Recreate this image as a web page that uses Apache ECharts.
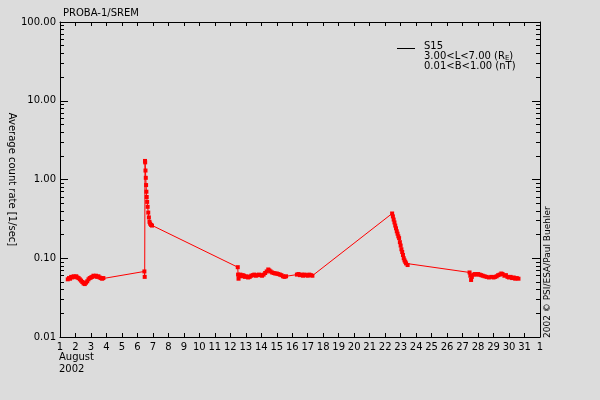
<!DOCTYPE html>
<html>
<head>
<meta charset="utf-8">
<script src="https://cdn.jsdelivr.net/npm/echarts@6/dist/echarts.min.js"></script>
<style>
  html, body { margin: 0; padding: 0; background: #dcdcdc; }
  #chart { width: 600px; height: 400px; }
</style>
</head>
<body>
<div id="chart"></div>
<script>
// days of August 2002 (fractional) and S15 average count rate
var days = [
    1.50, 1.58, 1.65, 1.72, 1.80, 1.88, 1.95, 2.05, 2.12, 2.20, 2.28, 2.36, 2.44, 2.52, 2.60,
    2.68, 2.76, 2.84, 2.92, 3.00, 3.08, 3.16, 3.24, 3.32, 3.40, 3.48, 3.56, 3.64, 3.72, 3.80,
    6.45, 6.47, 6.49, 6.50, 6.52, 6.54, 6.56, 6.58, 6.60, 6.63, 6.66, 6.70, 6.74, 6.78, 6.82,
    6.88, 6.94,
    12.48, 12.50, 12.53, 12.58, 12.65, 12.72, 12.80, 12.88, 12.95, 13.05, 13.15, 13.25, 13.35,
    13.45, 13.55, 13.65, 13.75, 13.85, 13.95, 14.05, 14.15, 14.25, 14.35, 14.45, 14.52, 14.60,
    14.70, 14.80, 14.90, 15.00, 15.10, 15.20, 15.30, 15.40, 15.50, 15.60,
    16.30, 16.40, 16.50, 16.60, 16.70, 16.80, 16.90, 17.00, 17.10, 17.20, 17.30,
    22.45, 22.50, 22.55, 22.60, 22.65, 22.70, 22.75, 22.80, 22.85, 22.90, 22.95, 23.00, 23.05,
    23.10, 23.15, 23.20, 23.25, 23.30, 23.35, 23.45,
    27.45, 27.50, 27.55, 27.60, 27.70, 27.80, 27.90, 28.00, 28.10, 28.20, 28.30, 28.42, 28.55,
    28.70, 28.85, 29.00, 29.10, 29.20, 29.30, 29.40, 29.50, 29.58, 29.70, 29.80, 29.90, 30.00,
    30.10, 30.20, 30.30, 30.40, 30.50, 30.61
];
var rates = [
    0.054, 0.056, 0.055, 0.058, 0.057, 0.059, 0.058, 0.059, 0.057, 0.056, 0.054, 0.052, 0.050, 0.048, 0.047,
    0.049, 0.051, 0.054, 0.056, 0.057, 0.058, 0.060, 0.059, 0.060, 0.058, 0.059, 0.057, 0.056, 0.055, 0.056,
    0.068, 0.058, 1.72, 1.65, 1.30, 1.05, 0.85, 0.70, 0.60, 0.52, 0.45, 0.38, 0.33, 0.29, 0.275,
    0.265, 0.26,
    0.077, 0.062, 0.055, 0.060, 0.062, 0.059, 0.061, 0.060, 0.058, 0.059, 0.057, 0.058, 0.060,
    0.061, 0.062, 0.060, 0.061, 0.062, 0.061, 0.060, 0.062, 0.065, 0.068, 0.072, 0.070, 0.068,
    0.066, 0.065, 0.064, 0.064, 0.063, 0.062, 0.061, 0.059, 0.058, 0.059,
    0.062, 0.063, 0.061, 0.062, 0.060, 0.062, 0.061, 0.060, 0.062, 0.061, 0.060,
    0.37, 0.34, 0.31, 0.285, 0.26, 0.24, 0.22, 0.205, 0.19, 0.18, 0.16, 0.145, 0.13,
    0.12, 0.11, 0.10, 0.094, 0.09, 0.086, 0.082,
    0.066, 0.060, 0.053, 0.058, 0.062, 0.063, 0.062, 0.063, 0.062, 0.061, 0.060, 0.059, 0.058,
    0.057, 0.058, 0.057, 0.058, 0.059, 0.061, 0.062, 0.064, 0.063, 0.060, 0.061, 0.058, 0.057,
    0.058, 0.056, 0.057, 0.055, 0.056, 0.055
];
// y axis ticks
var yMajorTicks = [0.01, 0.1, 1, 10, 100];
var yMinorTicks = [
    0.02, 0.03, 0.04, 0.05, 0.06, 0.07, 0.08, 0.09,
    0.2, 0.3, 0.4, 0.5, 0.6, 0.7, 0.8, 0.9,
    2, 3, 4, 5, 6, 7, 8, 9,
    20, 30, 40, 50, 60, 70, 80, 90
];
var monthLabel = 'August';
var yearLabel = '2002';

var font = 'DejaVu Sans';
var chart = echarts.init(document.getElementById('chart'));

var points = days.map(function (d, i) { return [d, rates[i]]; });

function logAxis(pos, ticks, len, showLine, showLabel) {
    return {
        type: 'log',
        logBase: 10,
        min: 0.01,
        max: 100,
        position: pos,
        axisLine: { show: showLine, lineStyle: { color: '#000', width: 1 } },
        axisTick: { show: true, inside: true, length: len, customValues: ticks,
            lineStyle: { color: '#000', width: 1 } },
        axisLabel: { show: showLabel, customValues: ticks, color: '#000', fontSize: 10,
            fontFamily: font, margin: 4,
            formatter: function (v) { return Number(v).toFixed(2); } },
        minorTick: { show: false },
        splitLine: { show: false },
        name: showLabel ? 'Average count rate [1/sec]' : '',
        nameLocation: 'middle',
        nameRotate: -90,
        nameGap: 43,
        nameMoveOverlap: false,
        nameTextStyle: { color: '#000', fontSize: 10, fontFamily: font }
    };
}

function dayAxis(pos, showLabel) {
    return {
        type: 'value',
        min: 1,
        max: 32,
        interval: 1,
        position: pos,
        axisLine: { show: true, lineStyle: { color: '#000', width: 1 } },
        axisTick: { show: true, inside: true, length: 4, lineStyle: { color: '#000' } },
        axisLabel: { show: showLabel, color: '#000', fontSize: 10, fontFamily: font, margin: 5,
            formatter: function (v) { return v === 32 ? '1' : String(v); } },
        splitLine: { show: false }
    };
}

var option = {
    backgroundColor: '#dcdcdc',
    animation: false,
    title: {
        text: 'PROBA-1/SREM',
        left: 58,
        top: 3,
        textStyle: { color: '#000', fontSize: 10, fontWeight: 'normal', fontFamily: font }
    },
    grid: { left: 60, right: 60, top: 22, bottom: 63, outerBoundsMode: 'none', containLabel: false },
    xAxis: [dayAxis('bottom', true), dayAxis('top', false)],
    yAxis: [
        logAxis('left', yMajorTicks, 8, true, true),
        logAxis('left', yMinorTicks, 4, false, false),
        logAxis('right', yMajorTicks, 8, true, false),
        logAxis('right', yMinorTicks, 4, false, false)
    ],
    series: [{
        name: 'S15',
        type: 'line',
        data: points,
        symbol: 'rect',
        symbolSize: 4,
        showAllSymbol: true,
        lineStyle: { color: '#ff0000', width: 1 },
        itemStyle: { color: '#ff0000' }
    }],
    graphic: [
        { type: 'line', shape: { x1: 397, y1: 48.5, x2: 415, y2: 48.5 },
          style: { stroke: '#000', lineWidth: 1 } },
        { type: 'text', left: 424, top: 41,
          style: { text: 'S15', fill: '#000', font: '10px "DejaVu Sans"' } },
        { type: 'text', left: 424, top: 51,
          style: { text: '3.00<L<7.00 (R{sub|E})', fill: '#000', font: '10px "DejaVu Sans"',
            rich: { sub: { fontSize: 7, fontFamily: font, verticalAlign: 'bottom', padding: [4, 0, 0, 0] } } } },
        { type: 'text', left: 424, top: 61,
          style: { text: '0.01<B<1.00 (nT)', fill: '#000', font: '10px "DejaVu Sans"' } },
        { type: 'text', left: 59, top: 352,
          style: { text: monthLabel, fill: '#000', font: '10px "DejaVu Sans"' } },
        { type: 'text', left: 59, top: 364,
          style: { text: yearLabel, fill: '#000', font: '10px "DejaVu Sans"' } },
        { type: 'text', x: 543, y: 338, rotation: Math.PI / 2,
          style: { text: '2002 \u00a9 PSI/ESA/Paul Buehler', fill: '#000',
            font: '9px "DejaVu Sans"', align: 'left', verticalAlign: 'top' } }
    ]
};

chart.setOption(option);
</script>
</body>
</html>
